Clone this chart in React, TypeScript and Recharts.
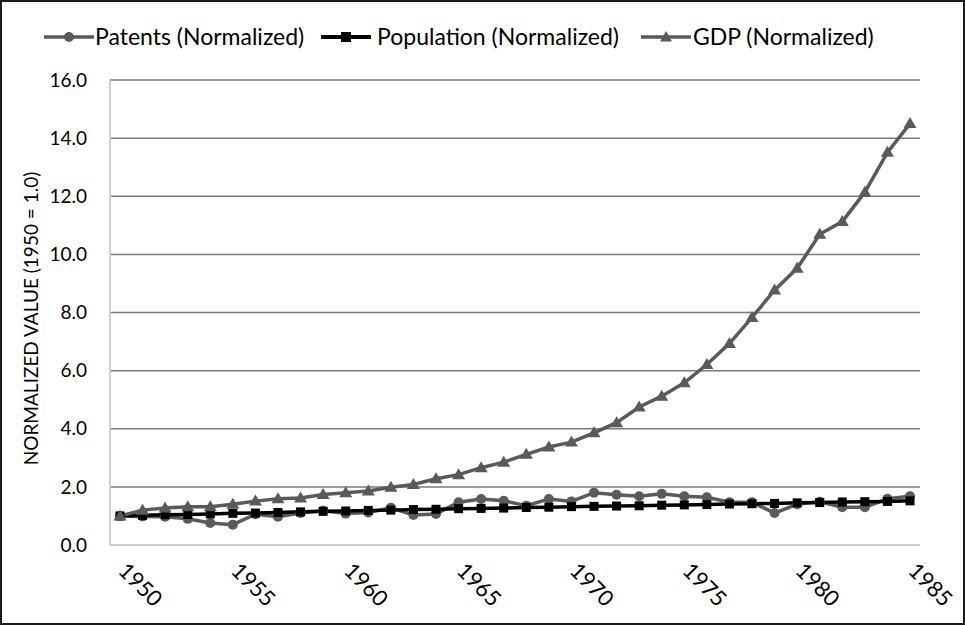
import React from "react";
import { LineChart, Line, XAxis, YAxis, CartesianGrid } from "recharts";

const years = [
  "1950","1951","1952","1953","1954","1955","1956","1957","1958","1959",
  "1960","1961","1962","1963","1964","1965","1966","1967","1968","1969",
  "1970","1971","1972","1973","1974","1975","1976","1977","1978","1979",
  "1980","1981","1982","1983","1984","1985",
];

const patents = [
  1.0, 0.98, 0.97, 0.9, 0.76, 0.7, 1.06, 0.97, 1.1, 1.18,
  1.08, 1.12, 1.28, 1.03, 1.07, 1.47, 1.58, 1.52, 1.35, 1.58,
  1.5, 1.8, 1.73, 1.68, 1.76, 1.68, 1.64, 1.47, 1.47, 1.1,
  1.4, 1.49, 1.3, 1.3, 1.59, 1.68,
];

const population = [
  1.0, 1.02, 1.04, 1.05, 1.07, 1.09, 1.1, 1.12, 1.14, 1.16,
  1.17, 1.19, 1.2, 1.22, 1.23, 1.25, 1.26, 1.27, 1.29, 1.3,
  1.32, 1.33, 1.34, 1.35, 1.37, 1.38, 1.39, 1.41, 1.42, 1.43,
  1.45, 1.46, 1.48, 1.49, 1.5, 1.52,
];

const gdp = [
  1.0, 1.2, 1.27, 1.32, 1.32, 1.4, 1.51, 1.59, 1.62, 1.74,
  1.8, 1.86, 1.99, 2.08, 2.28, 2.42, 2.66, 2.85, 3.12, 3.37,
  3.54, 3.86, 4.21, 4.75, 5.12, 5.58, 6.21, 6.93, 7.83, 8.77,
  9.52, 10.69, 11.13, 12.14, 13.51, 14.5,
];

const yTicks = [0, 2, 4, 6, 8, 10, 12, 14, 16];

const seriesNames = ["Patents (Normalized)", "Population (Normalized)", "GDP (Normalized)"];

const GRAY = "#5a5a5a";
const BLACK = "#000000";
const FONT = "Lato, 'Noto Sans', sans-serif";

const data = years.map((y, i) => ({
  year: y,
  patents: patents[i],
  population: population[i],
  gdp: gdp[i],
}));

const CircleDot = (props: any) => {
  const { cx, cy, index } = props;
  if (cx == null || cy == null) return <g key={`c-${index}`} />;
  return <circle key={`c-${index}`} cx={cx} cy={cy} r={5} fill={GRAY} stroke="none" />;
};

const SquareDot = (props: any) => {
  const { cx, cy, index } = props;
  if (cx == null || cy == null) return <g key={`s-${index}`} />;
  return <rect key={`s-${index}`} x={cx - 4.5} y={cy - 4.5} width={9} height={9} fill={BLACK} />;
};

const TriDot = (props: any) => {
  const { cx, cy, index } = props;
  if (cx == null || cy == null) return <g key={`t-${index}`} />;
  return (
    <path
      key={`t-${index}`}
      d={`M${cx},${cy - 6.5} L${cx + 6.5},${cy + 4.5} L${cx - 6.5},${cy + 4.5} Z`}
      fill={GRAY}
    />
  );
};

const XTick = (props: any) => {
  const { x, y, payload } = props;
  const tx = x - 3;
  const ty = y + 19;
  return (
    <text
      x={tx}
      y={ty}
      transform={`rotate(45, ${tx}, ${ty})`}
      textAnchor="start"
      fontSize={22}
      fontFamily={FONT}
      fill="#000"
    >
      {payload.value}
    </text>
  );
};

const LegendIcon = ({ kind }: { kind: number }) => {
  const color = kind === 1 ? BLACK : GRAY;
  return (
    <svg width={52} height={16} style={{ display: "block" }}>
      <line x1={1} y1={8} x2={51} y2={8} stroke={color} strokeWidth={kind === 1 ? 4 : 3.5} />
      {kind === 0 && <circle cx={26} cy={8} r={5} fill={color} />}
      {kind === 1 && <rect x={21} y={3} width={10} height={10} fill={color} />}
      {kind === 2 && <path d="M26,2 L32,12.5 L20,12.5 Z" fill={color} />}
    </svg>
  );
};

const legendIconX = [43, 320, 640];
const legendTextX = [95, 377, 693];

const LegendBlock = () => (
  <div style={{ position: "absolute", left: 0, top: 0, width: 965, height: 70, pointerEvents: "none" }}>
    {seriesNames.map((name, i) => (
      <React.Fragment key={name}>
        <div style={{ position: "absolute", left: legendIconX[i], top: 29 }}>
          <LegendIcon kind={i} />
        </div>
        <div
          style={{
            position: "absolute",
            left: legendTextX[i],
            top: 22,
            fontFamily: FONT,
            fontSize: 23,
            lineHeight: "28px",
            color: "#000",
            whiteSpace: "nowrap",
          }}
        >
          {name}
        </div>
      </React.Fragment>
    ))}
  </div>
);

export default function App() {
  return (
    <div style={{ position: "absolute", left: 0, top: 0, width: 965, height: 625, background: "#fff" }}>
      <LineChart
        width={965}
        height={625}
        data={data}
        margin={{ top: 80, right: 45, bottom: 0, left: 0 }}
      >
        <CartesianGrid horizontal={true} vertical={false} stroke="#7a7a7a" strokeWidth={1.5} />
        <XAxis
          dataKey="year"
          interval={4}
          height={80}
          padding={{ left: 10, right: 10 }}
          tickLine={false}
          axisLine={{ stroke: "#cfcfcf", strokeWidth: 2 }}
          tick={<XTick />}
        />
        <YAxis
          width={110}
          domain={[0, 16]}
          ticks={yTicks}
          tickLine={false}
          axisLine={{ stroke: "#cfcfcf", strokeWidth: 2 }}
          tickFormatter={(v: number) => v.toFixed(1)}
          tick={{ fontSize: 19, fontFamily: FONT, fill: "#000" }}
          tickMargin={17}
          label={{
            value: "NORMALIZED VALUE (1950 = 1.0)",
            angle: -90,
            position: "insideLeft",
            dx: 26,
            dy: 6,
            style: { textAnchor: "middle", fontSize: 19, fontFamily: FONT, fill: "#000" },
          }}
        />
        <Line
          dataKey="patents"
          name={seriesNames[0]}
          stroke={GRAY}
          strokeWidth={3.5}
          dot={<CircleDot />}
          activeDot={false}
          isAnimationActive={false}
        />
        <Line
          dataKey="population"
          name={seriesNames[1]}
          stroke={BLACK}
          strokeWidth={3.5}
          dot={<SquareDot />}
          activeDot={false}
          isAnimationActive={false}
        />
        <Line
          dataKey="gdp"
          name={seriesNames[2]}
          stroke={GRAY}
          strokeWidth={3.5}
          dot={<TriDot />}
          activeDot={false}
          isAnimationActive={false}
        />
      </LineChart>
      <LegendBlock />
      <div
        style={{
          position: "absolute",
          left: 0,
          top: 0,
          width: 965,
          height: 625,
          boxSizing: "border-box",
          border: "2px solid #1a1a1a",
          pointerEvents: "none",
        }}
      />
    </div>
  );
}
